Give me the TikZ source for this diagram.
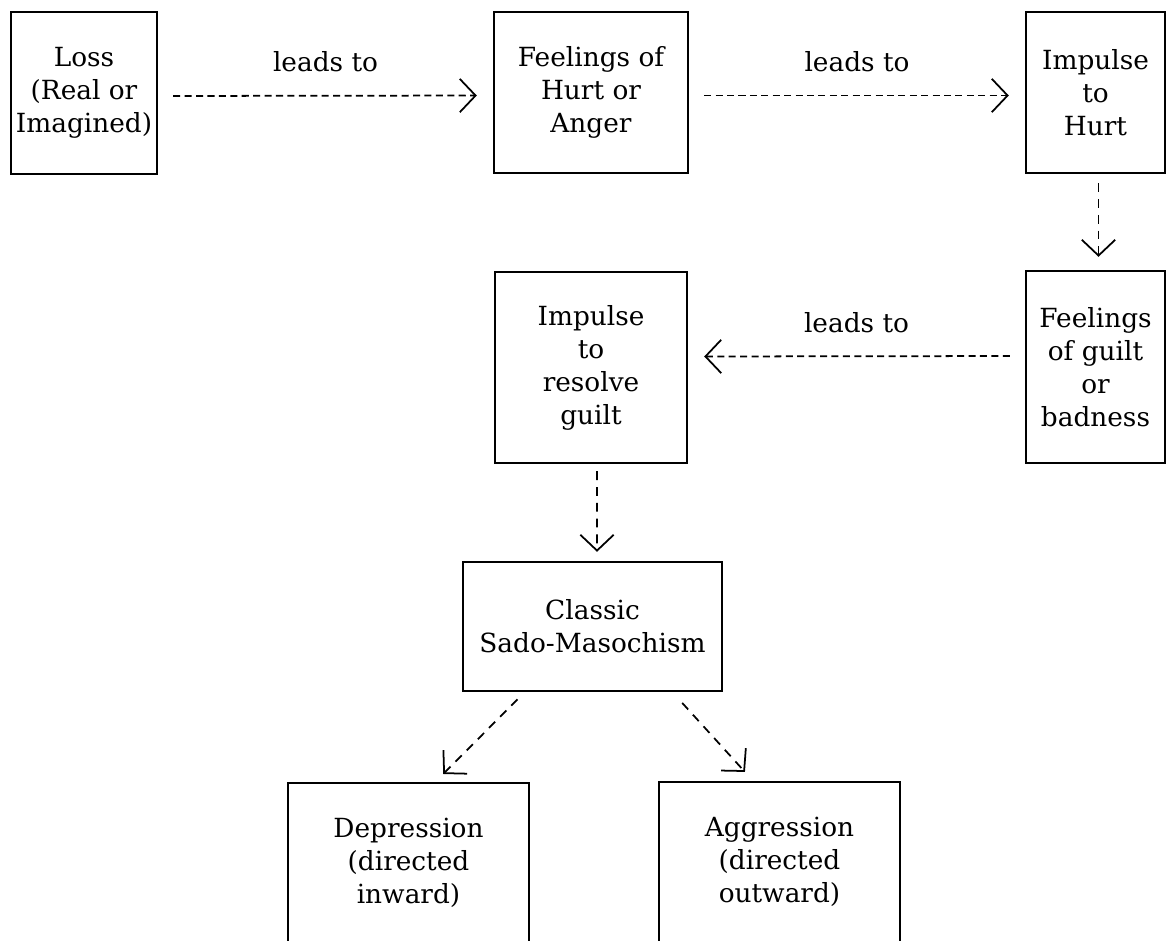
\documentclass[tikz,border=0pt]{standalone}
\usepackage{fontspec}
\setmainfont{DejaVu Serif}
\usepackage{tikz}
\usetikzlibrary{arrows.meta,positioning}

\begin{document}
\begin{tikzpicture}[x=0.02cm,y=-0.02cm,>={Straight Barb[length=9pt,width=19pt]},
  box/.style={draw,line width=1.4pt,align=center,inner sep=0pt,font=\fontsize{15}{18.8}\selectfont},
  lbl/.style={font=\fontsize{15}{18.8}\selectfont},
  link/.style={->,line width=1pt,dash pattern=on 4pt off 2.5pt,shorten <=0.3cm,shorten >=0.32cm},
  drop/.style={->,line width=1pt,dash pattern=on 5pt off 4pt}]
  \useasboundingbox (0,0) rectangle (1166,940);
  \clip (0,0) rectangle (1166,940);
  \node[box,minimum width=2.92cm,minimum height=3.24cm] (loss) at (84,93) {Loss\\(Real or\\Imagined)};
  \node[box,minimum width=3.88cm,minimum height=3.22cm] (hurt) at (591,92.5) {Feelings of\\Hurt or\\Anger};
  \node[box,minimum width=2.78cm,minimum height=3.22cm] (impulse) at (1095.5,92.5) {Impulse\\to\\Hurt};
  \node[box,minimum width=2.78cm,minimum height=3.84cm] (guilt) at (1095.5,367) {Feelings\\of guilt\\or\\badness};
  \node[box,minimum width=3.84cm,minimum height=3.82cm] (resolve) at (591,367.5) {Impulse\\to\\resolve\\guilt};
  \node[box,minimum width=5.18cm,minimum height=2.58cm] (classic) at (592.5,626.5) {Classic\\Sado-Masochism};
  \node[box,minimum width=4.82cm,minimum height=3.2cm] (depress) at (408.5,863) {Depression\\(directed\\inward)};
  \node[box,minimum width=4.82cm,minimum height=3.2cm] (aggress) at (779.5,862) {Aggression\\(directed\\outward)};
  \draw[link] ([yshift=-0.06cm]loss.east) -- ([yshift=-0.06cm]hurt.west) node[lbl,midway,yshift=0.68cm] {leads to};
  \draw[link] ([yshift=-0.06cm]hurt.east) -- ([yshift=-0.06cm]impulse.west) node[lbl,midway,yshift=0.68cm] {leads to};
  \draw[drop,shorten <=0.18cm,shorten >=0.26cm] ([xshift=0.06cm]impulse.south) -- ([xshift=0.06cm]guilt.north);
  \draw[link] ([yshift=0.22cm]guilt.west) -- ([yshift=0.22cm]resolve.east) node[lbl,midway,yshift=0.68cm] {leads to};
  \draw[drop,shorten <=0.14cm,shorten >=0.18cm] ([xshift=0.12cm]resolve.south) -- ([xshift=0.09cm]classic.north);
  \draw[drop,shorten <=0.2cm,shorten >=0.22cm] ([xshift=-1.36cm]classic.south) -- ([xshift=0.54cm]depress.north);
  \draw[drop,shorten <=0.29cm,shorten >=0.24cm] ([xshift=1.6cm]classic.south) -- ([xshift=-0.53cm]aggress.north);
\end{tikzpicture}
\end{document}
